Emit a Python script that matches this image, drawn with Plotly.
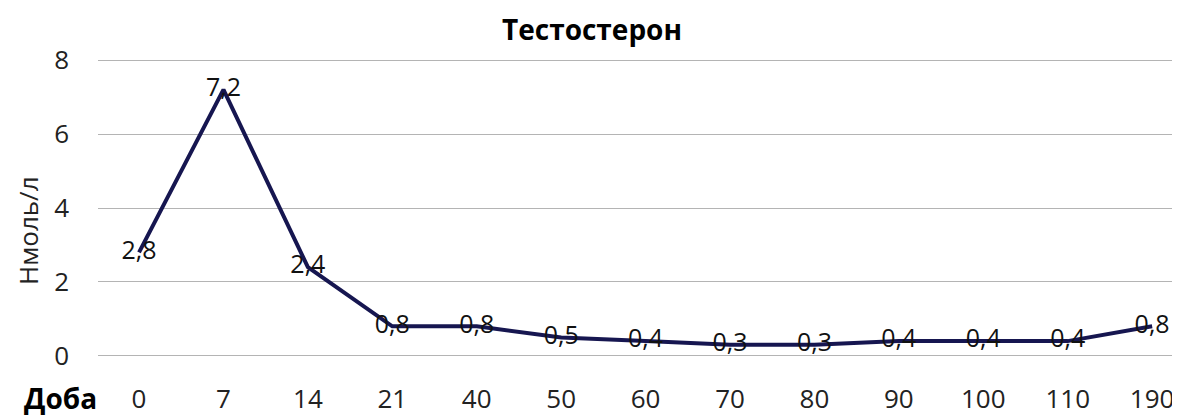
import plotly.graph_objects as go

categories = ["0", "7", "14", "21", "40", "50", "60", "70", "80", "90", "100", "110", "190"]
values = [2.8, 7.2, 2.4, 0.8, 0.8, 0.5, 0.4, 0.3, 0.3, 0.4, 0.4, 0.4, 0.8]
labels = [f"{v:.1f}".replace(".", ",") for v in values]
y_ticks = [0, 2, 4, 6, 8]

FONT = "Open Sans"
# page body has an 8px margin, so the figure is 8px smaller than the window
W, H = 1172, 408
L, R, T, B = 90, 0, 51, 59

fig = go.Figure()
fig.add_trace(go.Scatter(
    x=list(range(len(categories))), y=values,
    mode="lines+text",
    line=dict(color="#161650", width=4),
    text=labels, textposition="middle center",
    textfont=dict(family=FONT, size=25, color="#111111"),
    cliponaxis=False, hoverinfo="skip",
))

fig.update_layout(
    width=W, height=H,
    margin=dict(l=L, r=R, t=T, b=B),
    paper_bgcolor="white", plot_bgcolor="white",
    showlegend=False,
    separators=", ",
    title=dict(text="<b>Тестостерон</b>", x=584 / W, xanchor="center", y=1 - 22 / H, yanchor="middle",
               font=dict(family=FONT, size=28, color="#000000")),
    xaxis=dict(
        tickmode="array", tickvals=list(range(len(categories))), ticktext=categories,
        range=[-0.486, 12.33], showgrid=False, zeroline=False, showline=False,
        ticks="", tickfont=dict(family=FONT, size=26, color="#222222"),
        ticklabelstandoff=24, ticklabeloverflow="allow",
    ),
    yaxis=dict(
        range=[-0.03, 8.03], tickvals=y_ticks, showgrid=True, gridcolor="#b4b4b4", gridwidth=1,
        zeroline=False, showline=False, ticks="",
        tickfont=dict(family=FONT, size=26, color="#222222"),
        ticklabelstandoff=28,
    ),
    annotations=[
        dict(
            text="<b>Доба</b>", xref="paper", yref="paper",
            x=-(L - 14) / (W - L - R), y=-(390 - (H - B)) / (H - T - B),
            xanchor="left", yanchor="middle", showarrow=False,
            font=dict(family=FONT, size=28, color="#000000"),
        ),
        dict(
            text="Нмоль/л", xref="paper", yref="paper", textangle=-90,
            x=-(L - 20) / (W - L - R), y=1 - (223 - T) / (H - T - B),
            xanchor="center", yanchor="middle", showarrow=False,
            font=dict(family=FONT, size=26, color="#222222"),
        ),
    ],
)

fig.write_html("out.html")
